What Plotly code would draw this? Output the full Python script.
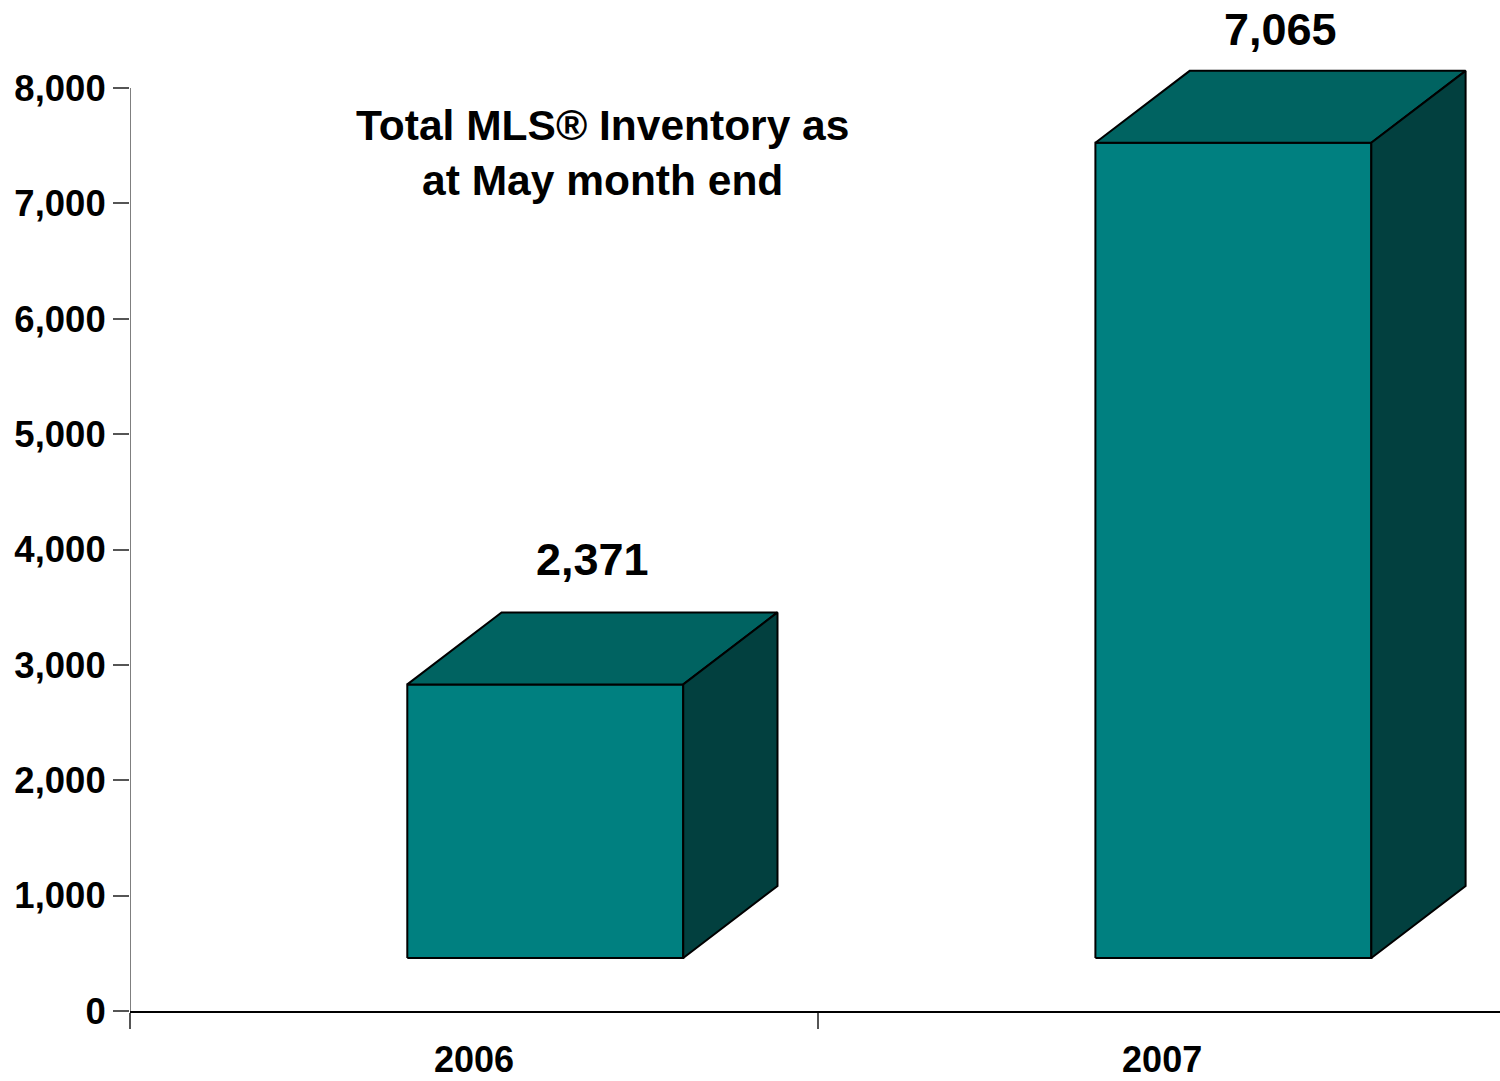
import plotly.graph_objects as go

categories = ["2006", "2007"]
values = [2371, 7065]
value_labels = ["2,371", "7,065"]
y_ticks = [0, 1000, 2000, 3000, 4000, 5000, 6000, 7000, 8000]
title_text = "Total MLS® Inventory as<br>at May month end"

# 3D styling (in axis units)
FLOOR = 460              # front-face base offset
X0, X1 = 0.403, 0.804    # front face span within category slot
DX, DY = 0.137, 624      # depth offset
LABEL_SHIFT = [53, 41]   # label pixel offsets above the bar tops
FRONT, TOP, SIDE = "#008080", "#006361", "#02403F"
EDGE = dict(color="black", width=2)
FONT = "Liberation Sans, Arial, sans-serif"

fig = go.Figure()
for i, v in enumerate(values):
    xl, xr = i + X0, i + X1
    yb, yt = FLOOR, FLOOR + v
    fig.add_trace(go.Scatter(x=[xl, xr, xr, xl, xl], y=[yb, yb, yt, yt, yb],
                             fill="toself", fillcolor=FRONT, line=EDGE, mode="lines",
                             hoverinfo="skip", showlegend=False))
    fig.add_trace(go.Scatter(x=[xl, xr, xr + DX, xl + DX, xl], y=[yt, yt, yt + DY, yt + DY, yt],
                             fill="toself", fillcolor=TOP, line=EDGE, mode="lines",
                             hoverinfo="skip", showlegend=False))
    fig.add_trace(go.Scatter(x=[xr, xr + DX, xr + DX, xr, xr], y=[yb, yb + DY, yt + DY, yt, yb],
                             fill="toself", fillcolor=SIDE, line=EDGE, mode="lines",
                             hoverinfo="skip", showlegend=False))
    fig.add_annotation(x=(xl + xr) / 2 + DX / 2, y=yt + DY, text=value_labels[i],
                       showarrow=False, yanchor="middle", yshift=LABEL_SHIFT[i],
                       font=dict(family=FONT, size=45, color="black", weight="bold"))

fig.add_annotation(x=0.686, y=7440, text=title_text, showarrow=False,
                   font=dict(family=FONT, size=42.5, color="black", weight="bold"), align="center")

# y-axis line up to 8000
fig.add_shape(type="line", xref="x", yref="y", x0=0, x1=0, y0=0, y1=8000,
              line=dict(color="#555555", width=1.5))

fig.update_layout(
    width=1500, height=1081,
    margin=dict(l=130, r=0, t=0, b=70),
    plot_bgcolor="white", paper_bgcolor="white",
    font=dict(family=FONT, color="black"),
    xaxis=dict(range=[0, 1.991], showgrid=False, zeroline=False, showline=True,
               linecolor="black", linewidth=1.5, automargin=False,
               tickmode="array", tickvals=[0.5, 1.5], ticktext=categories,
               ticks="", tickfont=dict(family=FONT, size=36, color="black", weight="bold"),
               ticklabelstandoff=16,
               minor=dict(tickmode="linear", tick0=0, dtick=1, ticks="outside",
                          ticklen=16, tickcolor="#555555", tickwidth=1.5)),
    yaxis=dict(range=[0, 8763], showgrid=False, zeroline=False, showline=False,
               automargin=False,
               tickmode="array", tickvals=y_ticks, tickformat=",",
               ticks="outside", ticklen=16, tickcolor="#555555", tickwidth=1.5,
               tickfont=dict(family=FONT, size=36.5, color="black", weight="bold")),
)

fig.write_html("out.html", config={"displayModeBar": False},
               post_script="document.body.style.margin='0';")
